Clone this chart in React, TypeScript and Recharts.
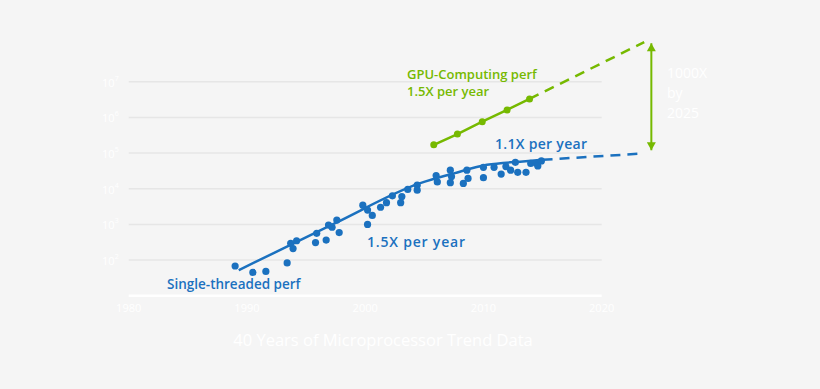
import React from "react";
import {
  ComposedChart,
  Line,
  Scatter,
  XAxis,
  YAxis,
  ReferenceLine,
} from "recharts";

const GREEN = "#76b900";
const BLUE = "#1b71bf";
const GRID = "#e6e6e6";

// single-threaded perf samples (year, perf)
const cpuYears = [
  1989.0, 1990.5, 1991.6, 1993.4, 1993.7, 1993.9, 1994.2, 1995.8, 1995.9, 1996.7,
  1996.9, 1997.2, 1997.6, 1997.8, 1999.8, 2000.2, 2000.6, 2000.2, 2001.3, 2001.8,
  2002.3, 2003.1, 2003.0, 2003.6, 2004.4, 2004.4, 2006.0, 2006.1, 2007.2, 2007.3,
  2007.2, 2008.3, 2008.7, 2008.6, 2010.0, 2010.0, 2010.9, 2011.5, 2011.9, 2012.3,
  2012.7, 2012.9, 2013.6, 2014.0, 2014.5, 2014.6, 2014.9,
];
const cpuPerf = [
  68, 45, 48, 83, 295, 209, 347, 309, 562, 363,
  955, 832, 1318, 589, 3467, 2512, 1778, 1000, 3020, 4074,
  6310, 6026, 4074, 9550, 12600, 9120, 23400, 15500, 33100, 21900,
  14800, 14100, 19500, 33100, 39800, 20400, 39800, 25700, 41700, 33100,
  55000, 28800, 28800, 51300, 51300, 43700, 60300,
];

// trend line through the CPU samples
const trendYears = [1989.3, 1997.5, 2004.6, 2007.5, 2010.3, 2013.1, 2015.0];
const trendPerf = [52, 1100, 14100, 26900, 46800, 57500, 64600];
const cpuProjYears = [2015.0, 2023.6];
const cpuProjPerf = [64600, 98000];

// GPU computing perf
const gpuYears = [2005.8, 2007.8, 2009.9, 2012.0, 2013.9];
const gpuPerf = [170000, 340000, 760000, 1620000, 3300000];
const gpuProjYears = [2013.9, 2023.6];
const gpuProjPerf = [3300000, 129000000];

// 1000X gap arrow
const gapYears = [2024.2, 2024.2];
const gapPerf = [120000, 120000000];

const xTicks = [1980, 1990, 2000, 2010, 2020];
const yTicks = [1e2, 1e3, 1e4, 1e5, 1e6, 1e7];

const pts = (xs: number[], ys: number[]) => xs.map((x, i) => ({ x, y: ys[i] }));

const YTick = (props: any) => {
  const { x, y, payload } = props;
  const exp = Math.round(Math.log10(payload.value));
  return (
    <text x={x - 2} y={y} dy={5} textAnchor="end" fill="#fff" fontSize={11}>
      10
      <tspan dy={-6} fontSize={7}>
        {exp}
      </tspan>
    </text>
  );
};

const Arrowhead = (props: any) => {
  const { cx, cy, payload } = props;
  const up = payload.y > 1e6;
  const d = up
    ? `M${cx},${cy} L${cx - 4.5},${cy + 8} L${cx + 4.5},${cy + 8} Z`
    : `M${cx},${cy} L${cx - 4.5},${cy - 8} L${cx + 4.5},${cy - 8} Z`;
  return <path d={d} fill={GREEN} />;
};

const label = (
  left: number,
  top: number,
  color: string,
  size: number,
  text: React.ReactNode,
  spacing = 0
) => (
  <div
    style={{
      position: "absolute",
      left,
      top,
      color,
      fontSize: size,
      fontWeight: 600,
      letterSpacing: spacing,
      lineHeight: `${size + 4}px`,
      whiteSpace: "nowrap",
    }}
  >
    {text}
  </div>
);

export default function App() {
  return (
    <div
      style={{
        position: "fixed",
        inset: 0,
        background: "#f5f5f5",
        fontFamily: "'Open Sans', sans-serif",
        overflow: "hidden",
      }}
    >
      <div style={{ position: "absolute", left: 0, top: 0 }}>
        <ComposedChart
          width={820}
          height={389}
          margin={{ top: 35.35, right: 159.2, left: 88.7, bottom: 63.3 }}
        >
          <XAxis
            dataKey="x"
            type="number"
            domain={[1980, 2025]}
            ticks={xTicks}
            allowDataOverflow
            axisLine={false}
            tickLine={false}
            height={30}
            tick={{ fill: "#fff", fontSize: 11 }}
          />
          <YAxis
            dataKey="y"
            type="number"
            scale="log"
            domain={[10, 2e8]}
            ticks={yTicks}
            allowDataOverflow
            axisLine={false}
            tickLine={false}
            width={40}
            tick={<YTick />}
          />
          {yTicks.map((v) => (
            <ReferenceLine
              key={v}
              segment={[
                { x: 1980, y: v },
                { x: 2020, y: v },
              ]}
              stroke={GRID}
              strokeWidth={1.5}
            />
          ))}
          <ReferenceLine
            segment={[
              { x: 1980, y: 10 },
              { x: 2020, y: 10 },
            ]}
            stroke="#fff"
            strokeWidth={2.5}
            ifOverflow="visible"
          />
          <Line
            data={pts(trendYears, trendPerf)}
            dataKey="y"
            type="monotone"
            stroke={BLUE}
            strokeWidth={2.5}
            dot={false}
            isAnimationActive={false}
          />
          <Line
            data={pts(cpuProjYears, cpuProjPerf)}
            dataKey="y"
            type="linear"
            stroke={BLUE}
            strokeWidth={2.5}
            strokeDasharray="10 7"
            dot={false}
            isAnimationActive={false}
          />
          <Scatter
            data={pts(cpuYears, cpuPerf)}
            dataKey="y"
            fill={BLUE}
            isAnimationActive={false}
            shape={(p: any) => <circle cx={p.cx} cy={p.cy} r={3.6} fill={BLUE} />}
          />
          <Line
            data={pts(gpuYears, gpuPerf)}
            dataKey="y"
            type="linear"
            stroke={GREEN}
            strokeWidth={2.5}
            dot={{ r: 3.5, fill: GREEN, stroke: GREEN, strokeWidth: 0 }}
            isAnimationActive={false}
          />
          <Line
            data={pts(gpuProjYears, gpuProjPerf)}
            dataKey="y"
            type="linear"
            stroke={GREEN}
            strokeWidth={2.5}
            strokeDasharray="10 7"
            dot={false}
            isAnimationActive={false}
          />
          <Line
            data={pts(gapYears, gapPerf)}
            dataKey="y"
            type="linear"
            stroke={GREEN}
            strokeWidth={2}
            dot={false}
            isAnimationActive={false}
          />
          <Scatter
            data={pts(gapYears, gapPerf)}
            dataKey="y"
            fill={GREEN}
            isAnimationActive={false}
            shape={<Arrowhead />}
          />
        </ComposedChart>
      </div>
      {label(407, 66, GREEN, 13, "GPU-Computing perf")}
      {label(407, 83, GREEN, 13, "1.5X per year")}
      {label(495, 135, BLUE, 14, "1.1X per year", 0.3)}
      {label(367, 233, BLUE, 14, "1.5X per year", 0.8)}
      {label(167, 276, BLUE, 13.5, "Single-threaded perf")}
      <div
        style={{
          position: "absolute",
          left: 667,
          top: 63,
          color: "#fff",
          fontSize: 14,
          lineHeight: "20px",
        }}
      >
        1000X
        <br />
        by
        <br />
        2025
      </div>
      <div
        style={{
          position: "absolute",
          left: 0,
          width: 766,
          top: 329,
          textAlign: "center",
          color: "#fff",
          fontSize: 16.5,
          lineHeight: "22px",
        }}
      >
        40 Years of Microprocessor Trend Data
      </div>
    </div>
  );
}
